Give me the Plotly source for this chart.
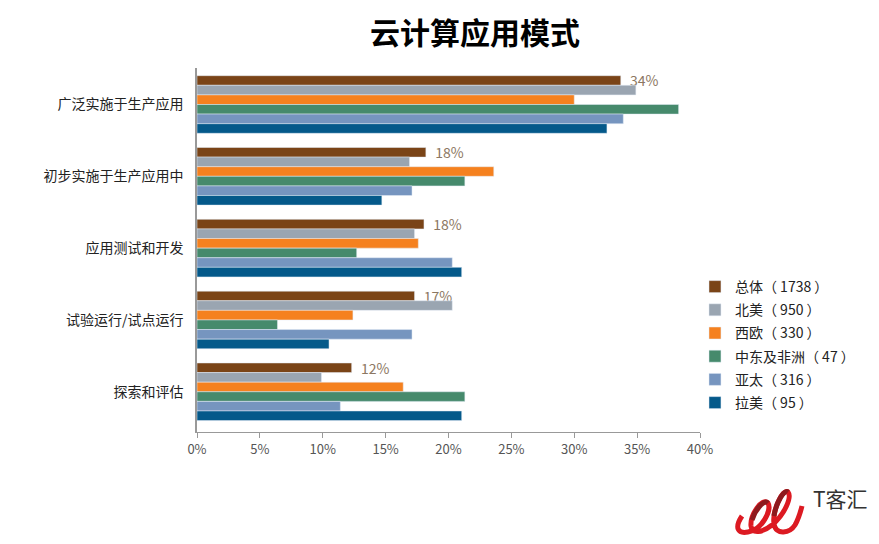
import plotly.graph_objects as go

categories = ["广泛实施于生产应用", "初步实施于生产应用中", "应用测试和开发", "试验运行/试点运行", "探索和评估"]
x_ticks = [0, 5, 10, 15, 20, 25, 30, 35, 40]
x_tick_labels = ["0%", "5%", "10%", "15%", "20%", "25%", "30%", "35%", "40%"]

zongti = [33.7, 18.2, 18.05, 17.3, 12.3]
beimei = [34.9, 16.9, 17.3, 20.3, 9.9]
xiou = [30.0, 23.6, 17.6, 12.4, 16.4]
zhongdong = [38.3, 21.3, 12.7, 6.4, 21.3]
yatai = [33.9, 17.1, 20.3, 17.1, 11.4]
lamei = [32.6, 14.7, 21.05, 10.5, 21.05]
zongti_labels = ["34%", "18%", "18%", "17%", "12%"]

font_cjk = "Noto Sans CJK SC"

# page has an 8px body margin, so figure is 8px smaller than the window
PLOT_L, PLOT_T, PLOT_W, PLOT_H = 197, 68, 503, 364


def px(x):
    return (x - PLOT_L) / PLOT_W


def py(y):
    return (PLOT_T + PLOT_H - y) / PLOT_H


def curve(start, segments):
    path = f"M {px(start[0])},{py(start[1])}"
    for a, b, c in segments:
        path += f" C {px(a[0])},{py(a[1])} {px(b[0])},{py(b[1])} {px(c[0])},{py(c[1])}"
    return path


fig = go.Figure()
fig.add_trace(go.Bar(name="总体（ 1738 ）", y=categories, x=zongti, orientation="h", marker_color="#7a4417",
                     text=zongti_labels, texttemplate="  %{text}", textposition="outside",
                     constraintext="none", cliponaxis=False,
                     textfont=dict(size=14, color="#8c7762", family=font_cjk), legendgroup="a"))
fig.add_trace(go.Bar(name="北美（ 950 ）", y=categories, x=beimei, orientation="h", marker_color="#9aa5b1", legendgroup="b"))
fig.add_trace(go.Bar(name="西欧（ 330 ）", y=categories, x=xiou, orientation="h", marker_color="#f5811f", legendgroup="c"))
fig.add_trace(go.Bar(name="中东及非洲（ 47 ）", y=categories, x=zhongdong, orientation="h", marker_color="#468a6c", legendgroup="d"))
fig.add_trace(go.Bar(name="亚太（ 316 ）", y=categories, x=yatai, orientation="h", marker_color="#7695bf", legendgroup="e"))
fig.add_trace(go.Bar(name="拉美（ 95 ）", y=categories, x=lamei, orientation="h", marker_color="#04598a", legendgroup="f"))

fig.update_layout(
    width=871, height=536, autosize=False,
    paper_bgcolor="white", plot_bgcolor="white",
    margin=dict(l=189, r=179, t=60, b=112, autoexpand=False),
    barmode="group", bargap=0.198, bargroupgap=0,
    font=dict(family=font_cjk, size=14, color="#222222"),
    title=dict(text="<b>云计算应用模式</b>", x=467 / 871, xanchor="center", y=0.953, yanchor="middle",
               font=dict(size=30, color="#000000", family=font_cjk)),
    legend=dict(x=0.99, xanchor="left", y=0.239, yanchor="middle", traceorder="grouped", tracegroupgap=2,
                font=dict(size=14, color="#222222", family=font_cjk), itemclick=False),
    showlegend=True,
)
fig.update_xaxes(range=[0, 40], tickvals=x_ticks, ticktext=x_tick_labels, showgrid=False, zeroline=False,
                 showline=True, linecolor="#999999", linewidth=1, ticks="outside", ticklen=5,
                 tickcolor="#999999", tickfont=dict(size=13, color="#555555"))
fig.update_yaxes(range=[4.56, -0.508], showgrid=False, showline=True, linecolor="#999999", linewidth=1.5,
                 ticks="", ticklabelstandoff=9, tickfont=dict(size=14, color="#222222"))

# logo bottom right
fig.add_shape(type="path", xref="paper", yref="paper", line=dict(color="#dc1a22", width=5),
              path=curve((742, 516), [((734, 528), (738, 534), (748, 532)),
                                      ((762, 530), (772, 510), (768, 503)),
                                      ((762, 497), (750, 515), (751, 526)),
                                      ((752, 534), (762, 533), (772, 525)),
                                      ((785, 514), (792, 497), (788, 492)),
                                      ((783, 488), (772, 510), (774, 524)),
                                      ((776, 536), (790, 533), (795, 525)),
                                      ((799, 518), (801, 510), (802, 506))]))
fig.add_shape(type="path", xref="paper", yref="paper", line=dict(color="#8e1a1e", width=5),
              path=curve((768, 503), [((764, 499), (755, 510), (752, 520))]))
fig.add_shape(type="path", xref="paper", yref="paper", line=dict(color="#8e1a1e", width=5),
              path=curve((788, 492), [((784, 489), (776, 503), (774, 516))]))
fig.add_annotation(text="T客汇", xref="paper", yref="paper", x=px(840), y=py(515), xanchor="center",
                   showarrow=False, font=dict(size=21, color="#333333", family=font_cjk))

fig.write_html("out.html")
